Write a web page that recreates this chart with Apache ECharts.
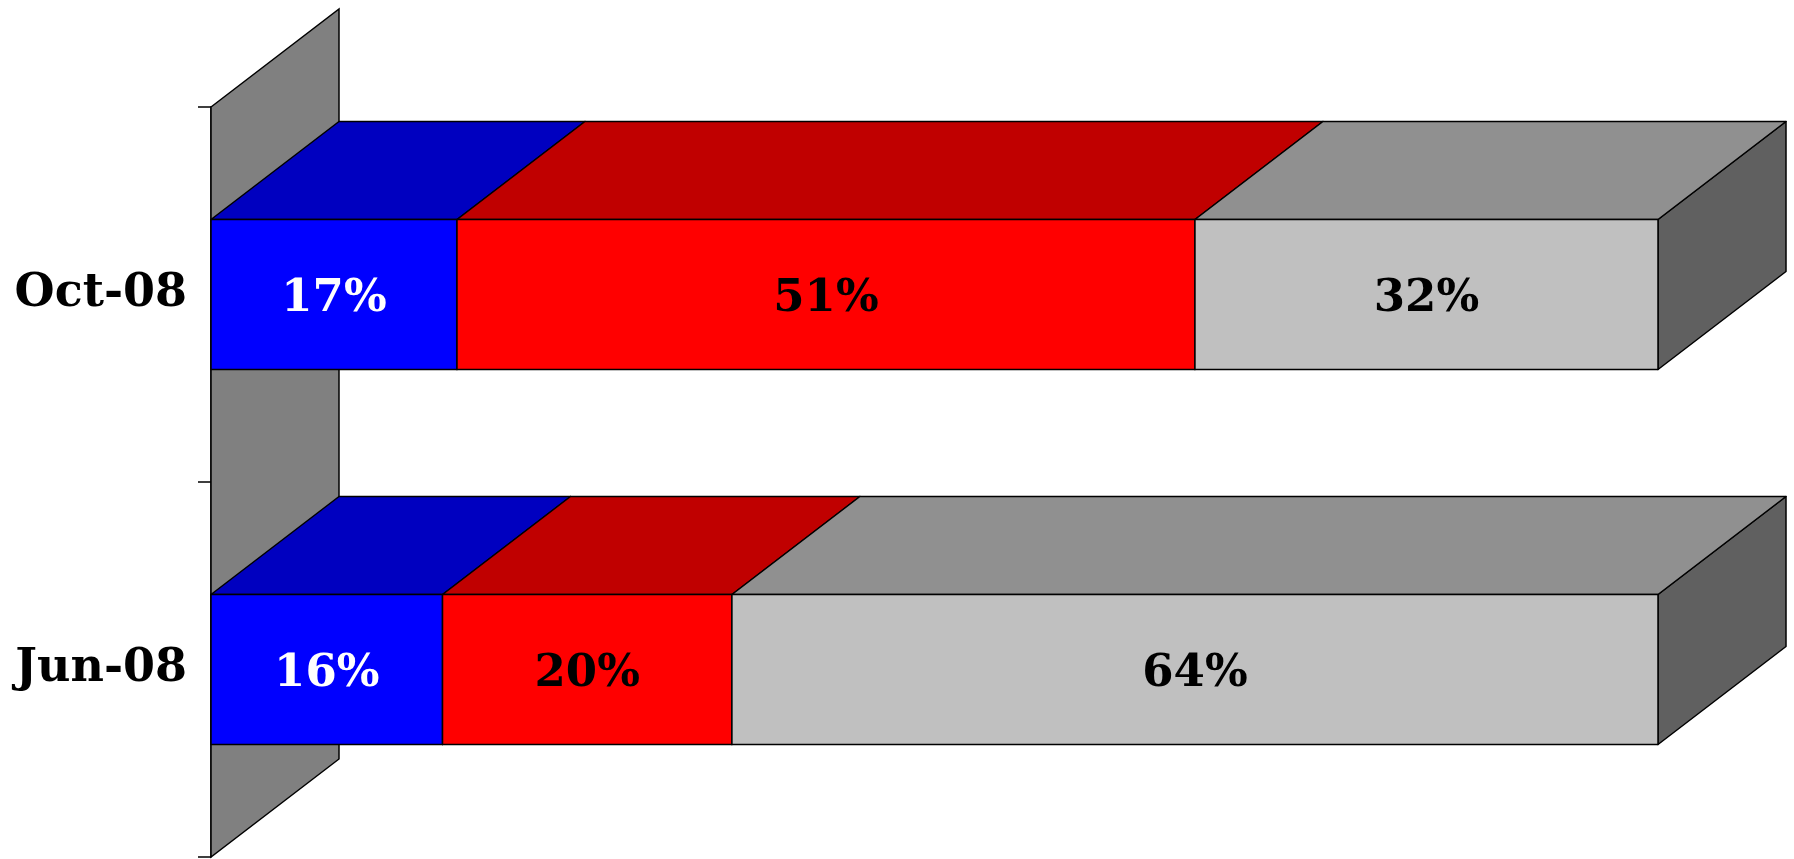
<!DOCTYPE html>
<html><head><meta charset="utf-8">
<script src="https://cdn.jsdelivr.net/npm/echarts@6/dist/echarts.min.js"></script>
<style>html,body{margin:0;padding:0;background:#fff}#c{width:1794px;height:859px}</style>
</head><body><div id="c"></div>
<script>
// ---- data ----
const categories = ['Jun-08', 'Oct-08'];
const seriesNames = ['Series 1', 'Series 2', 'Series 3'];
const blueValues = [16, 17];
const redValues = [20, 51];
const grayValues = [64, 32];

// ---- styles ----
const DX = 128, DY = -98;
const FONT = 'Georgia, "DejaVu Serif", serif';
const palette = [
  { front: '#0000FF', top: '#0000C0', side: '#000080', text: '#FFFFFF' },
  { front: '#FF0000', top: '#C00000', side: '#800000', text: '#000000' },
  { front: '#C0C0C0', top: '#909090', side: '#606060', text: '#000000' }
];

const allValues = [blueValues, redValues, grayValues];
const cum = categories.map(() => 0);
const stacked = allValues.map(vals => vals.map((v, i) => {
  const s = cum[i]; cum[i] += v; return [s, s + v, i, v];
}));

function boxRenderer(col) {
  return function (params, api) {
    const start = api.value(0), end = api.value(1), cat = api.value(2), v = api.value(3);
    const p0 = api.coord([start, cat]);
    const p1 = api.coord([end, cat]);
    const h = api.size([0, 1])[1] * 0.4;
    const x0 = p0[0], x1 = p1[0];
    const yT = p0[1] - h / 2, yB = p0[1] + h / 2;
    const ln = { stroke: '#000', lineWidth: 1.5, lineJoin: 'round' };
    return {
      type: 'group',
      children: [
        { type: 'polygon', shape: { points: [[x1, yT], [x1 + DX, yT + DY], [x1 + DX, yB + DY], [x1, yB]] },
          style: Object.assign({ fill: col.side }, ln) },
        { type: 'polygon', shape: { points: [[x0, yT], [x0 + DX, yT + DY], [x1 + DX, yT + DY], [x1, yT]] },
          style: Object.assign({ fill: col.top }, ln) },
        { type: 'rect', shape: { x: x0, y: yT, width: x1 - x0, height: h },
          style: Object.assign({ fill: col.front }, ln) },
        { type: 'text', x: (x0 + x1) / 2, y: (yT + yB) / 2 + 5,
          style: { text: v + '%', fill: col.text, fontFamily: FONT, fontWeight: 'bold', fontSize: 45,
                   align: 'center', verticalAlign: 'middle' } }
      ]
    };
  };
}

const wallSeries = {
  type: 'custom', name: 'wall', silent: true, z: 1,
  data: [[0, 0]],
  encode: { x: 0, y: 1 },
  renderItem: function (params, api) {
    const cs = params.coordSys;
    const x = cs.x, yT = cs.y, yB = cs.y + cs.height;
    return { type: 'polygon',
      shape: { points: [[x, yT], [x + DX, yT + DY], [x + DX, yB + DY], [x, yB]] },
      style: { fill: '#808080', stroke: '#000', lineWidth: 1.5 } };
  }
};

const chart = echarts.init(document.getElementById('c'));
chart.setOption({
  animation: false,
  backgroundColor: '#fff',
  grid: { left: 211, right: 136, top: 107, bottom: 2, containLabel: false },
  xAxis: { type: 'value', min: 0, max: 100, show: false },
  yAxis: {
    type: 'category', data: categories,
    axisLine: { show: true, lineStyle: { color: '#000', width: 1.5 } },
    axisTick: { show: true, length: 13, lineStyle: { color: '#000', width: 1.5 } },
    axisLabel: { margin: 24, color: '#000', fontFamily: FONT, fontWeight: 'bold', fontSize: 46,
                 padding: [6, 0, 0, 0] },
    splitLine: { show: false }
  },
  series: [wallSeries].concat(stacked.map((d, k) => ({
    type: 'custom', name: seriesNames[k], z: 2 + k,
    data: d, encode: { x: [0, 1], y: 2 },
    renderItem: boxRenderer(palette[k])
  })))
});
</script></body></html>
